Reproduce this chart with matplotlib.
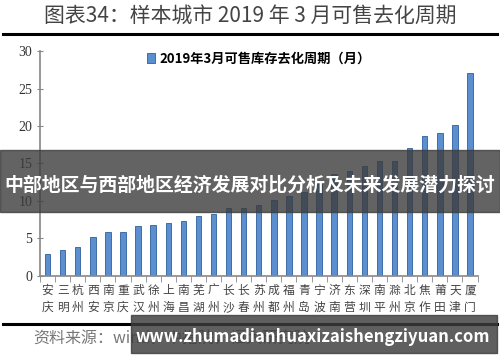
import numpy as np
import matplotlib.pyplot as plt
from matplotlib.patches import Rectangle

plt.rcParams['font.family'] = ['Noto Sans CJK SC', 'DejaVu Sans']

# cities and months of inventory
cities = ['安庆', '三明', '杭州', '西安', '南京', '重庆', '武汉', '徐州', '上海', '南昌',
          '芜湖', '广州', '长沙', '长春', '苏州', '成都', '福州', '青岛', '宁波', '济南',
          '东营', '深圳', '南平', '滁州', '北京', '焦作', '莆田', '天津', '厦门']
months = [2.9, 3.5, 3.8, 5.2, 5.9, 5.9, 6.6, 6.8, 7.1, 7.3,
          8.0, 8.3, 9.0, 9.0, 9.5, 10.1, 10.6, 11.2, 12.3, 13.6,
          14.0, 14.6, 15.3, 15.3, 17.0, 18.6, 19.1, 20.1, 27.1]
y_ticks = [0, 5, 10, 15, 20, 25, 30]

title = '图表34：样本城市 2019 年 3 月可售去化周期'
legend_label = '2019年3月可售库存去化周期（月）'
source = '资料来源：wind，中指院，恒大研究院'
banner = '中部地区与西部地区经济发展对比分析及未来发展潜力探讨'
site = 'www.zhumadianhuaxizaishengziyuan.com'

fig = plt.figure(figsize=(5, 3.62), dpi=100)
fig.patch.set_facecolor('white')

ax = fig.add_axes([0.08, 0.238, 0.876, 0.621])
x = np.arange(len(cities))
ax.bar(x, months, width=0.36, color='#5b8fd0', edgecolor='#2f5f9e', linewidth=0.6,
       label=legend_label, zorder=2)
ax.set_xlim(-0.47, len(cities) - 0.47)
ax.set_ylim(0, 30)
ax.set_yticks(y_ticks)
ax.set_yticklabels([str(v) for v in y_ticks], fontsize=10, color='#333333',
                   family='Liberation Serif')
ax.set_xticks(x)
ax.set_xticklabels(['\n'.join(c) for c in cities], fontsize=8.5, color='#444444',
                   linespacing=1.35)
ax.tick_params(axis='x', length=0, pad=6)
ax.set_xticks(np.arange(len(cities) + 1) - 0.5, minor=True)
ax.tick_params(axis='x', which='minor', length=4, color='#888888', direction='out')
ax.tick_params(axis='y', length=4, color='#888888', direction='inout')
for s in ['top', 'right']:
    ax.spines[s].set_visible(False)
ax.spines['left'].set_color('#888888')
ax.spines['bottom'].set_color('#888888')
ax.spines['left'].set_linewidth(1.2)
ax.spines['bottom'].set_linewidth(1.2)

ax.legend(loc='upper center', bbox_to_anchor=(0.5, 1.05), frameon=False,
          prop={'size': 9.5, 'weight': 'bold'}, handlelength=0.6, handleheight=0.8,
          handletextpad=0.3)

# title and rules
fig.text(0.5, 0.955, title, ha='center', va='center', fontsize=15, color='#444444')
fig.add_artist(plt.Line2D([0.006, 0.994], [0.906, 0.906], color='black', lw=2.2))
fig.add_artist(plt.Line2D([0.006, 0.994], [0.105, 0.105], color='black', lw=2.2))
fig.text(0.066, 0.062, source, ha='left', va='center', fontsize=11.5, color='#777777',
         style='italic')

# overlay banners
fig.add_artist(Rectangle((0.0, 0.414), 1.0, 0.172, transform=fig.transFigure,
                         color='#3c3c3c', alpha=0.8, zorder=5))
fig.text(0.5, 0.49, banner, ha='center', va='center', fontsize=13.6, color='white',
         weight='bold', zorder=6)
fig.add_artist(Rectangle((0.262, 0.025), 0.732, 0.105, transform=fig.transFigure,
                         color='#3c3c3c', alpha=0.82, zorder=5))
fig.text(0.625, 0.069, site, ha='center', va='center', fontsize=12, color='white',
         weight='bold', zorder=6)

fig.savefig('out.png', dpi=100)
